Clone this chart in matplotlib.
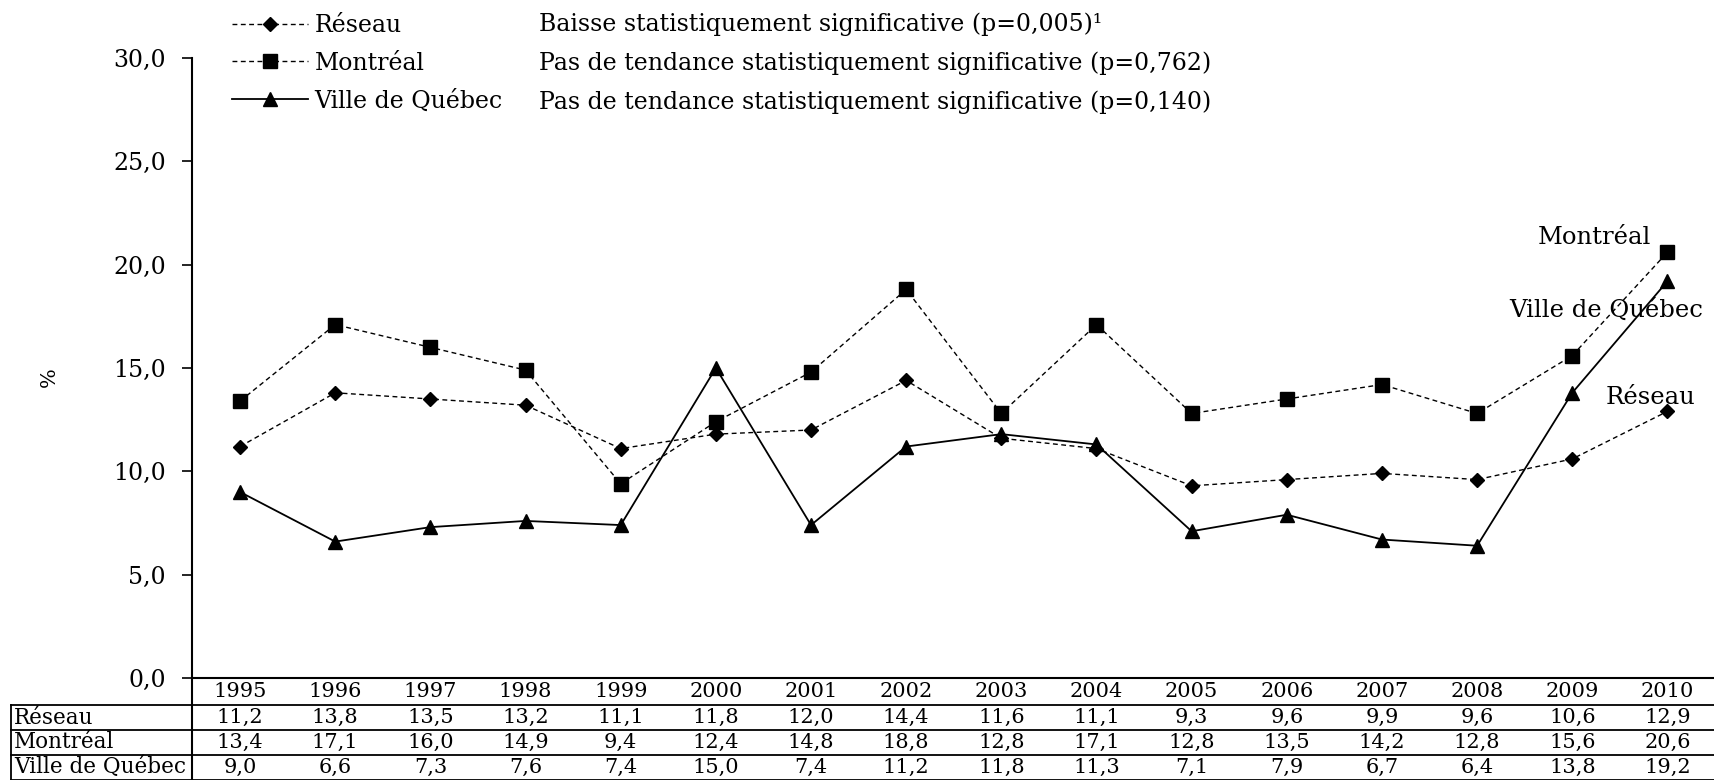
import matplotlib
matplotlib.use("Agg")
import matplotlib.pyplot as plt
import matplotlib.transforms as mtransforms
from matplotlib.lines import Line2D
import numpy as np

plt.rcParams['font.family'] = ['DejaVu Serif']

years = [1995, 1996, 1997, 1998, 1999, 2000, 2001, 2002,
         2003, 2004, 2005, 2006, 2007, 2008, 2009, 2010]
reseau = [11.2, 13.8, 13.5, 13.2, 11.1, 11.8, 12.0, 14.4,
          11.6, 11.1, 9.3, 9.6, 9.9, 9.6, 10.6, 12.9]
montreal = [13.4, 17.1, 16.0, 14.9, 9.4, 12.4, 14.8, 18.8,
            12.8, 17.1, 12.8, 13.5, 14.2, 12.8, 15.6, 20.6]
quebec = [9.0, 6.6, 7.3, 7.6, 7.4, 15.0, 7.4, 11.2,
          11.8, 11.3, 7.1, 7.9, 6.7, 6.4, 13.8, 19.2]
series_names = ["Réseau", "Montréal", "Ville de Québec"]
trend_notes = ["Baisse statistiquement significative (p=0,005)¹",
               "Pas de tendance statistiquement significative (p=0,762)",
               "Pas de tendance statistiquement significative (p=0,140)"]
yticks = [0, 5, 10, 15, 20, 25, 30]

W, H = 1715, 780
fig = plt.figure(figsize=(W / 100, H / 100), dpi=100)

def fx(px):
    return px / W

def fy(py):
    return 1 - py / H

ax = fig.add_axes([fx(192.5), fy(678), 1 - fx(192.5), fy(58) - fy(678)])
x = np.arange(len(years))

dash = (0, (3.5, 2.5))
l1, = ax.plot(x, reseau, color='black', lw=1.0, linestyle=dash,
              marker='D', markersize=7, clip_on=False)
l2, = ax.plot(x, montreal, color='black', lw=1.0, linestyle=dash,
              marker='s', markersize=9.5, clip_on=False)
l3, = ax.plot(x, quebec, color='black', lw=1.3, linestyle='-',
              marker='^', markersize=10.5, clip_on=False)

ax.set_xlim(-0.5, len(years) - 0.5)
ax.set_ylim(0, 30)
ax.set_xticks([])
ax.set_yticks(yticks)
ax.set_yticklabels([f"{v:.1f}".replace('.', ',') for v in yticks], fontsize=17)
ax.tick_params(axis='y', direction='out', length=7, width=1.2, pad=12)
for s in ['top', 'right']:
    ax.spines[s].set_visible(False)
ax.spines['left'].set_linewidth(1.5)
ax.spines['bottom'].set_linewidth(1.5)

fig.text(fx(49), fy(377), '%', rotation=90, ha='center', va='center', fontsize=15)

# legend + trend notes
leg = ax.legend([l1, l2, l3], series_names, loc='upper left',
                bbox_to_anchor=(fx(232), fy(14)), bbox_transform=fig.transFigure,
                frameon=False, fontsize=17, handlelength=3.2, handletextpad=0.3,
                labelspacing=0.62, borderpad=0, borderaxespad=0)
for txt, py in zip(trend_notes, [24, 63, 102]):
    fig.text(fx(539), fy(py), txt, ha='left', va='center', fontsize=17)

# end labels
ax.text(14.23, 21.3, "Montréal", ha='center', va='center', fontsize=17.5)
ax.text(14.36, 17.8, "Ville de Québec", ha='center', va='center', fontsize=17.5)
ax.text(14.82, 13.55, "Réseau", ha='center', va='center', fontsize=17.5)

# data table below the axis
tr = mtransforms.blended_transform_factory(ax.transData, fig.transFigure)
row_y = [691.5, 717.5, 742.5, 767.5]
for i, yr in enumerate(years):
    ax.text(i, fy(row_y[0]), str(yr), transform=tr, ha='center', va='center',
            fontsize=15, clip_on=False)
for r, (name, vals) in enumerate(zip(series_names, [reseau, montreal, quebec])):
    fig.text(fx(14), fy(row_y[r + 1]), name, ha='left', va='center', fontsize=15.5)
    for i, v in enumerate(vals):
        ax.text(i, fy(row_y[r + 1]), f"{v:.1f}".replace('.', ','), transform=tr,
                ha='center', va='center', fontsize=15, clip_on=False)

for py in [705, 730, 755, 779.5]:
    fig.add_artist(Line2D([fx(11), 1], [fy(py), fy(py)], color='black', lw=1.3))
fig.add_artist(Line2D([fx(11), fx(11)], [fy(705), 0], color='black', lw=1.3))
fig.add_artist(Line2D([fx(192.5), fx(192.5)], [fy(678), 0], color='black', lw=1.5))

fig.savefig("out.png", dpi=100)
